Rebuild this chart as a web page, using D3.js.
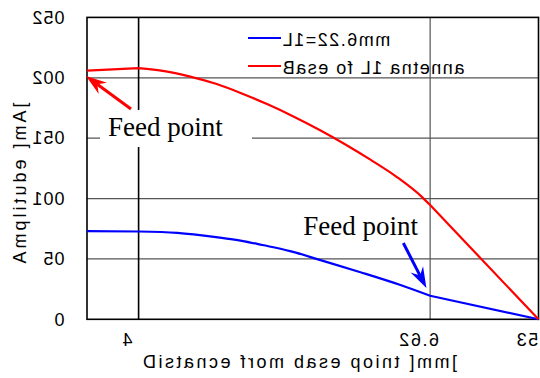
<!DOCTYPE html>
<html>
<head>
<meta charset="utf-8">
<script src="https://cdn.jsdelivr.net/npm/d3@7"></script>
<style>
  body { margin: 0; background: #fff; }
  svg { display: block; }
</style>
</head>
<body>
<script>
// curve values
const baseX = [0, 4, 6, 8, 10, 12, 14, 16, 18, 20, 22, 24, 26, 26.6, 35];
const baseY = [206, 208, 205.5, 201, 195, 187, 178, 168, 157, 145, 132, 118, 101, 94.6, 0];
const l1X = [0, 4, 7, 10, 12, 13.6, 15.75, 18.1, 21.2, 24.3, 26.6, 35];
const l1Y = [73, 72.7, 71.5, 68, 65, 61.5, 56.5, 49, 39, 28.4, 19.5, 0];

const xTicks = [4, 26.6, 35];
const xTickLabels = ["4", "26.6", "35"];
const yTicks = [0, 50, 100, 150, 200, 250];
const seriesNames = ["L1=22.6mm", "Base of L1 antenna"];
const seriesColors = ["#0000ff", "#ff0000"];

// "Feed point" notes: [tailX, tailY, tipX, tipY, textX, textY]
const notes = [
  [3.41, 174.1, -0.08, 201.5, 1.63, 151.4],
  [24.52, 63.2, 26.31, 25.9, 16.76, 69.8]
];
const noteColors = ["#ff0000", "#0000ff"];

const width = 540, height = 378;
const x = d3.scaleLinear().domain([0, 35]).range([87, 538.5]);
const y = d3.scaleLinear().domain([0, 250]).range([319.3, 17.4]);

const svg = d3.select("body").append("svg")
    .attr("width", width)
    .attr("height", height);

// every glyph is drawn flipped on its own, order kept
function flippedText(parent, str, o) {
  const g = parent.append("g")
      .attr("transform", `translate(${o.x},${o.y}) rotate(${o.rotate || 0})`)
      .style("font-family", "'Liberation Sans', Arial, sans-serif")
      .style("font-size", o.size + "px")
      .attr("fill", "#000");
  const probe = g.append("text").attr("letter-spacing", o.spacing || 0).text(str);
  const node = probe.node();
  const total = node.getComputedTextLength();
  const off = o.anchor === "end" ? -total : o.anchor === "middle" ? -total / 2 : 0;
  const boxes = [];
  for (let i = 0; i < str.length; i++) {
    const p = node.getStartPositionOfChar(i).x;
    const w = node.getSubStringLength(i, 1);
    boxes.push([p, w]);
  }
  probe.remove();
  str.split("").forEach((ch, i) => {
    if (ch === " ") return;
    g.append("text")
        .attr("text-anchor", "middle")
        .attr("dy", "0.35em")
        .attr("transform", `translate(${boxes[i][0] + boxes[i][1] / 2 + off},0) scale(-1,1)`)
        .text(ch);
  });
  return g;
}

// grid
svg.append("g").selectAll("line")
  .data(yTicks.slice(1, -1))
  .join("line")
    .attr("x1", x(0)).attr("x2", x(35))
    .attr("y1", d => y(d)).attr("y2", d => y(d))
    .attr("stroke", "#555").attr("stroke-width", 1.2);

svg.append("line")
    .attr("x1", x(4)).attr("x2", x(4))
    .attr("y1", y(0)).attr("y2", y(250))
    .attr("stroke", "#000").attr("stroke-width", 1.6);
svg.append("line")
    .attr("x1", x(26.6)).attr("x2", x(26.6))
    .attr("y1", y(0)).attr("y2", y(250))
    .attr("stroke", "#555").attr("stroke-width", 1.2);

svg.append("rect")
    .attr("x", x(0)).attr("y", y(250))
    .attr("width", x(35) - x(0)).attr("height", y(0) - y(250))
    .attr("fill", "none").attr("stroke", "#000").attr("stroke-width", 1.6);

// tick labels
yTicks.forEach(d => flippedText(svg, String(d), {x: 65, y: y(d), size: 18, anchor: "end", spacing: 1}));
xTicks.forEach((d, i) => flippedText(svg, xTickLabels[i], {x: x(d) - 11, y: 340, size: 18, anchor: "middle", spacing: 1.5}));

// axis titles
flippedText(svg, "Distance from base point [mm]", {x: 300, y: 362, size: 18, anchor: "middle", spacing: 2.5});
flippedText(svg, "Amplitude [mA]", {x: 20, y: 183, size: 18, anchor: "middle", spacing: 3, rotate: -90});

// legend
seriesNames.forEach((name, i) => {
  const ly = 38 + i * 28;
  svg.append("line")
      .attr("x1", 248).attr("x2", 281)
      .attr("y1", ly).attr("y2", ly)
      .attr("stroke", seriesColors[i]).attr("stroke-width", 2);
  flippedText(svg, name, {x: 282, y: ly + 2, size: 18, anchor: "start", spacing: 1.5});
});

// first note sits on a white box that hides the grid behind it
svg.append("rect")
    .attr("x", 100).attr("y", 110)
    .attr("width", 152).attr("height", 37)
    .attr("fill", "#fff");

// curves: straight up to x=4 and after x=26.6, smooth in between
const straight = d3.line().x(d => x(d[0])).y(d => y(d[1]));
const smooth = d3.line().x(d => x(d[0])).y(d => y(d[1])).curve(d3.curveMonotoneX);
[[l1X, l1Y], [baseX, baseY]].forEach((s, i) => {
  const pts = s[0].map((v, j) => [v, s[1][j]]);
  const a = pts.findIndex(p => p[0] === 4);
  const b = pts.findIndex(p => p[0] === 26.6);
  const d = straight(pts.slice(0, a + 1)) +
            smooth(pts.slice(a, b + 1)).replace(/^M/, "L") +
            straight(pts.slice(b)).replace(/^M/, "L");
  svg.append("path")
      .attr("d", d)
      .attr("fill", "none")
      .attr("stroke", seriesColors[i])
      .attr("stroke-width", 2.2)
      .attr("stroke-linejoin", "round");
});

// notes with arrows
notes.forEach((n, i) => {
  const x0 = x(n[0]), y0 = y(n[1]), x1 = x(n[2]), y1 = y(n[3]);
  const a = Math.atan2(y1 - y0, x1 - x0);
  const len = 21, half = 7, back = 14;
  const ux = Math.cos(a), uy = Math.sin(a);
  const bx = x1 - ux * len, by = y1 - uy * len;
  const nx = x1 - ux * back, ny = y1 - uy * back;
  svg.append("line")
      .attr("x1", x0).attr("y1", y0)
      .attr("x2", nx).attr("y2", ny)
      .attr("stroke", noteColors[i]).attr("stroke-width", 3);
  svg.append("path")
      .attr("d", `M${x1},${y1}L${bx - uy * half},${by + ux * half}L${nx},${ny}L${bx + uy * half},${by - ux * half}Z`)
      .attr("fill", noteColors[i]);
  svg.append("text")
      .attr("x", x(n[4])).attr("y", y(n[5]))
      .style("font-family", "'Liberation Serif', 'Times New Roman', serif")
      .style("font-size", "27px")
      .attr("fill", "#000")
      .text("Feed point");
});
</script>
</body>
</html>
